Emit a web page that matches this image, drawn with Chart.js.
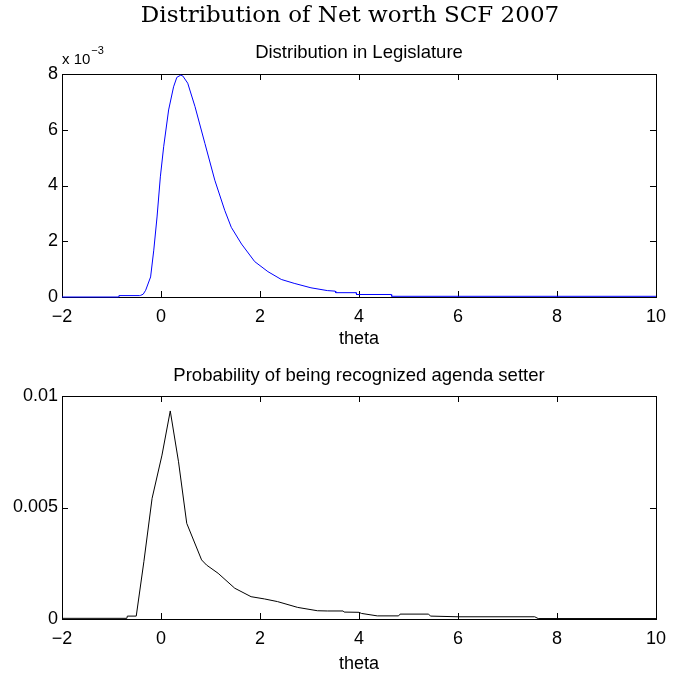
<!DOCTYPE html>
<html>
<head>
<meta charset="utf-8">
<title>Distribution of Net worth SCF 2007</title>
<script src="https://cdn.jsdelivr.net/npm/chart.js@4.4.1/dist/chart.umd.min.js"></script>
<style>
  html, body { margin: 0; padding: 0; background: #fff; }
  #wrap { position: relative; width: 675px; height: 677px; overflow: hidden; }
  #suptitle {
    position: absolute; left: 0; top: 1px; width: 700px; text-align: center;
    font-family: "DejaVu Serif", serif; font-size: 23px; line-height: 27px; color: #000;
  }
  canvas { position: absolute; left: 0; }
  #c1 { top: 0; }
  #c2 { top: 350px; }
</style>
</head>
<body>
<div id="wrap">
  <canvas id="c1" width="675" height="350"></canvas>
  <canvas id="c2" width="675" height="327"></canvas>
  <div id="suptitle">Distribution of Net worth SCF 2007</div>
</div>
<script>
// tick labels
const xTicks = [-2, 0, 2, 4, 6, 8, 10];
const legisYTicks = [0, 2, 4, 6, 8];          // x 10^-3
const agendaYTicks = [0, 0.005, 0.01];

// top panel: distribution in legislature (values in units of 1e-3)
const legisTheta = [-2, -0.86, -0.85, -0.43, -0.41, -0.36, -0.31, -0.21, -0.146, -0.08, -0.013, 0.054,
  0.154, 0.254, 0.32, 0.40, 0.44, 0.54, 0.687, 0.887, 1.087, 1.287, 1.42, 1.627, 1.893, 2.16,
  2.43, 2.69, 3.03, 3.36, 3.52, 3.53, 3.94, 3.95, 4.65, 4.66, 10];
const legisDensity = [0, 0, 0.05, 0.05, 0.06, 0.10, 0.24, 0.72, 1.68, 2.87, 4.31, 5.39,
  6.71, 7.54, 7.88, 7.96, 7.93, 7.67, 6.83, 5.51, 4.19, 3.11, 2.50, 1.90, 1.27, 0.91,
  0.63, 0.49, 0.33, 0.23, 0.21, 0.155, 0.155, 0.09, 0.09, 0.025, 0.025];

// bottom panel: probability of being recognized agenda setter
const agendaTheta = [-2, -0.69, -0.68, -0.5, -0.346, -0.18, 0.02, 0.187, 0.354, 0.52, 0.82, 0.92,
  1.154, 1.49, 1.82, 2.09, 2.354, 2.76, 3.16, 3.36, 3.68, 3.70, 4.0, 4.05, 4.37, 4.8, 4.83,
  5.4, 5.45, 6.0, 7.55, 7.62, 10];
const agendaProb = [0.00003, 0.00003, 0.00013, 0.00013, 0.00257, 0.00541, 0.00735, 0.00933, 0.00705,
  0.00429, 0.00265, 0.00242, 0.00205, 0.00138, 0.00100, 0.00090, 0.00078, 0.00052, 0.00037,
  0.00036, 0.00036, 0.00031, 0.00030, 0.00025, 0.00014, 0.00014, 0.00022, 0.00022, 0.00013,
  0.00010, 0.00010, 0.00002, 0.00002];

const SANS = '"Liberation Sans", Arial, sans-serif';
const TICK = 6;

// MATLAB style box with inward ticks on all four sides
const matlabBox = {
  id: 'matlabBox',
  beforeDatasetsDraw(chart) {
    const { ctx, chartArea: a, scales } = chart;
    ctx.save();
    ctx.strokeStyle = '#000';
    ctx.lineWidth = 1;
    ctx.beginPath();
    scales.x.ticks.forEach(t => {
      const px = Math.round(scales.x.getPixelForValue(t.value)) + 0.5;
      ctx.moveTo(px, a.bottom); ctx.lineTo(px, a.bottom - TICK);
      ctx.moveTo(px, a.top); ctx.lineTo(px, a.top + TICK);
    });
    scales.y.ticks.forEach(t => {
      const py = Math.round(scales.y.getPixelForValue(t.value)) + 0.5;
      ctx.moveTo(a.left, py); ctx.lineTo(a.left + TICK, py);
      ctx.moveTo(a.right, py); ctx.lineTo(a.right - TICK, py);
    });
    ctx.stroke();
    ctx.strokeRect(Math.round(a.left) + 0.5, Math.round(a.top) + 0.5,
      Math.round(a.right - a.left), Math.round(a.bottom - a.top));
    ctx.restore();
  }
};

// "x 10^-3" exponent label over the top y axis
const exponentLabel = {
  id: 'exponentLabel',
  afterDraw(chart) {
    const { ctx, chartArea: a } = chart;
    ctx.save();
    ctx.fillStyle = '#000';
    ctx.textBaseline = 'alphabetic';
    ctx.font = '15px ' + SANS;
    ctx.fillText('x 10', a.left, a.top - 10);
    const w = ctx.measureText('x 10').width;
    ctx.font = '11px ' + SANS;
    ctx.fillText('\u22123', a.left + w + 1, a.top - 20);
    ctx.restore();
  }
};

function makeChart(id, theta, vals, color, yTicks, yMax, subtitle, subPad, xAxisH, xTitlePad, plugins) {
  return new Chart(document.getElementById(id), {
    type: 'line',
    data: {
      datasets: [{
        data: theta.map((t, i) => ({ x: t, y: vals[i] })),
        borderColor: color,
        borderWidth: 1,
        pointRadius: 0,
        tension: 0,
        fill: false,
        clip: false
      }]
    },
    options: {
      responsive: false,
      animation: false,
      layout: { padding: { left: 0, right: 13, top: 0, bottom: 0 } },
      plugins: {
        legend: { display: false },
        tooltip: { enabled: false },
        title: { display: false },
        subtitle: {
          display: true,
          text: subtitle,
          fullSize: false,
          color: '#000',
          font: { family: SANS, size: 18.5, weight: 'normal', lineHeight: 1.2 },
          padding: subPad
        }
      },
      scales: {
        x: {
          type: 'linear',
          min: -2, max: 10,
          afterBuildTicks: s => { s.ticks = xTicks.map(v => ({ value: v })); },
          afterFit: s => { s.height = xAxisH; },
          grid: { display: false, drawTicks: false },
          border: { display: false },
          ticks: {
            color: '#000',
            padding: 9,
            maxRotation: 0,
            font: { family: SANS, size: 18 },
            callback: v => String(v).replace('-', '\u2212')
          },
          title: {
            display: true,
            text: 'theta',
            color: '#000',
            font: { family: SANS, size: 18, lineHeight: 1.2 },
            padding: { top: 0, bottom: xTitlePad }
          }
        },
        y: {
          type: 'linear',
          min: 0, max: yMax,
          afterBuildTicks: s => { s.ticks = yTicks.map(v => ({ value: v })); },
          afterFit: s => { s.width = 62; },
          grid: { display: false, drawTicks: false },
          border: { display: false },
          ticks: {
            color: '#000',
            padding: 4,
            font: { family: SANS, size: 18 },
            callback: v => String(v)
          }
        }
      }
    },
    plugins: plugins
  });
}

makeChart('c1', legisTheta, legisDensity, '#0000ff', legisYTicks, 8,
  'Distribution in Legislature', { top: 41.9, bottom: 9.9 }, 53, 0, [matlabBox, exponentLabel]);

makeChart('c2', agendaTheta, agendaProb, '#000000', agendaYTicks, 0.01,
  'Probability of being recognized agenda setter', { top: 14.9, bottom: 8.9 }, 58, 2.2, [matlabBox]);
</script>
</body>
</html>
